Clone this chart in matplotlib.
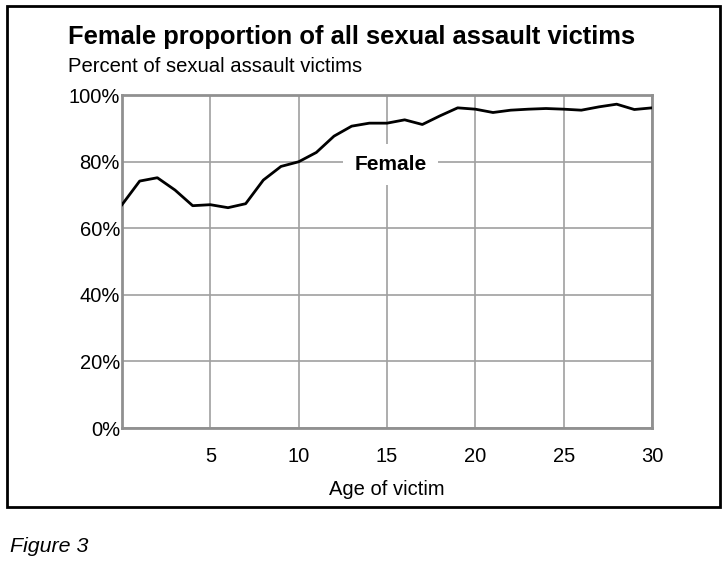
import matplotlib.pyplot as plt
from matplotlib.patches import Rectangle
from matplotlib.ticker import FuncFormatter

plt.rcParams['font.family'] = ['Liberation Sans', 'DejaVu Sans']

ages = list(range(0, 31))
female_pct = [67.1, 74.2, 75.2, 71.5, 66.8, 67.1, 66.2, 67.4, 74.5, 78.6,
              80.0, 82.8, 87.7, 90.7, 91.6, 91.6, 92.6, 91.2, 93.8, 96.2,
              95.8, 94.8, 95.5, 95.8, 96.0, 95.8, 95.5, 96.5, 97.3, 95.7,
              96.2]
xticks = [5, 10, 15, 20, 25, 30]
yticks = [0, 20, 40, 60, 80, 100]

fig = plt.figure(figsize=(7.28, 5.66), dpi=100)
ax = fig.add_axes([0.1676, 0.2438, 0.728, 0.588])

ax.plot(ages, female_pct, color='black', linewidth=2, zorder=3)

ax.set_xlim(0, 30)
ax.set_ylim(0, 100)
ax.set_xticks(xticks)
ax.set_yticks(yticks)
ax.yaxis.set_major_formatter(FuncFormatter(lambda v, p: f"{v:.0f}%"))
ax.tick_params(length=0, labelsize=14.5)
ax.tick_params(axis='y', pad=1.5)
ax.tick_params(axis='x', pad=14)
ax.grid(True, color='#a0a0a0', linewidth=1.2)
ax.set_axisbelow(True)
for s in ax.spines.values():
    s.set_color('#909090')
    s.set_linewidth(2)

ax.set_xlabel("Age of victim", fontsize=14.5, labelpad=10)

ax.text(15.2, 79.2, "Female", fontsize=15, fontweight='bold', ha='center',
        va='center', zorder=4,
        bbox=dict(facecolor='white', edgecolor='none', pad=8))

fig.text(0.0934, 0.934, "Female proportion of all sexual assault victims",
         fontsize=18.4, fontweight='bold', va='center')
fig.text(0.0934, 0.883, "Percent of sexual assault victims", fontsize=14.6,
         va='center')
fig.text(0.014, 0.035, "Figure 3", fontsize=15.4, style='italic', va='center')

fig.patches.append(Rectangle((0.0096, 0.104), 0.980, 0.885,
                             transform=fig.transFigure, fill=False,
                             edgecolor='black', linewidth=2))

fig.savefig("out.png", dpi=100)
